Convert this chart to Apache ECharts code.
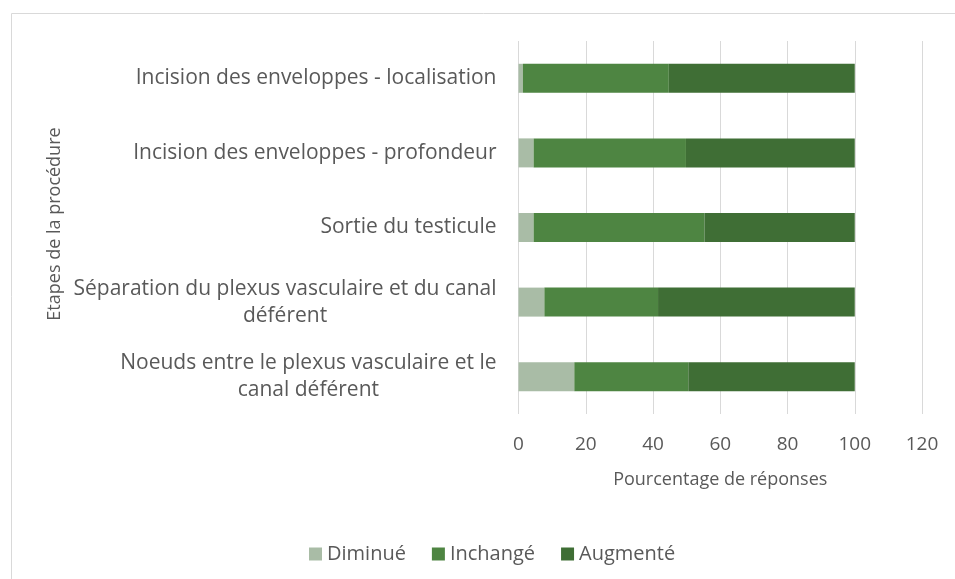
<!DOCTYPE html>
<html>
<head>
<meta charset="utf-8">
<script src="https://cdn.jsdelivr.net/npm/echarts@6/dist/echarts.min.js"></script>
<style>
html,body{margin:0;padding:0;background:#fff;}
#chart{width:955px;height:579px;}
</style>
</head>
<body>
<div id="chart"></div>
<script>
const categories = [
  "Incision des enveloppes - localisation",
  "Incision des enveloppes - profondeur",
  "Sortie du testicule",
  "Séparation du plexus vasculaire et du canal\ndéférent",
  "Noeuds entre le plexus vasculaire et le\ncanal déférent"
];
const diminue   = [1.3, 4.5, 4.5, 7.7, 16.6];
const inchange  = [43.4, 45.3, 50.8, 33.8, 33.9];
const augmente  = [55.3, 50.2, 44.7, 58.5, 49.5];
const xTicks = [0, 20, 40, 60, 80, 100, 120];
const yAxisTitle = 'Etapes de la procédure';

const FONT = "'Open Sans', 'Noto Sans', sans-serif";
const TXT = '#595959';

const chart = echarts.init(document.getElementById('chart'));
chart.setOption({
  animation: false,
  textStyle: { fontFamily: FONT },
  graphic: [{
    type: 'rect', left: 9, top: 11,
    shape: { width: 1000, height: 700 },
    style: { fill: 'none', stroke: '#D9D9D9', lineWidth: 1 },
    silent: true
  }, {
    type: 'text', x: 55, y: 224, rotation: Math.PI / 2,
    style: { text: yAxisTitle, fill: TXT, fontSize: 18, fontFamily: FONT, align: 'center', verticalAlign: 'middle' },
    silent: true
  }],
  grid: { left: 518.5, right: 33, top: 41, bottom: 165, containLabel: false },
  legend: {
    left: 304, top: 539,
    itemWidth: 13, itemHeight: 13, itemGap: 26,
    icon: 'rect',
    textStyle: { color: TXT, fontSize: 20, fontFamily: FONT },
    data: ['Diminué', 'Inchangé', 'Augmenté']
  },
  xAxis: {
    type: 'value',
    min: xTicks[0], max: xTicks[xTicks.length - 1], interval: 20,
    name: 'Pourcentage de réponses',
    nameLocation: 'middle', nameGap: 57,
    nameTextStyle: { color: TXT, fontSize: 18, fontFamily: FONT },
    axisLine: { show: false }, axisTick: { show: false },
    axisLabel: { color: TXT, fontSize: 19, margin: 21, fontFamily: FONT },
    splitLine: { lineStyle: { color: '#D9D9D9', width: 1 } }
  },
  yAxis: {
    type: 'category', inverse: true,
    data: categories,
    axisLine: { show: false }, axisTick: { show: false },
    axisLabel: {
      color: TXT, fontSize: 21, margin: 22, fontFamily: FONT, lineHeight: 27,
      formatter: function (v) {
        return v.split('\n').map(function (l) { return '{c|' + l + '}'; }).join('\n');
      },
      rich: { c: { align: 'center', color: TXT, fontSize: 21, fontFamily: FONT, lineHeight: 27 } }
    }
  },
  series: [
    { name: 'Diminué', type: 'bar', stack: 't', data: diminue, barWidth: 29, itemStyle: { color: '#A9BCA6' } },
    { name: 'Inchangé', type: 'bar', stack: 't', data: inchange, barWidth: 29, itemStyle: { color: '#4E8542' } },
    { name: 'Augmenté', type: 'bar', stack: 't', data: augmente, barWidth: 29, itemStyle: { color: '#3F6E35' } }
  ]
});
</script>
</body>
</html>
